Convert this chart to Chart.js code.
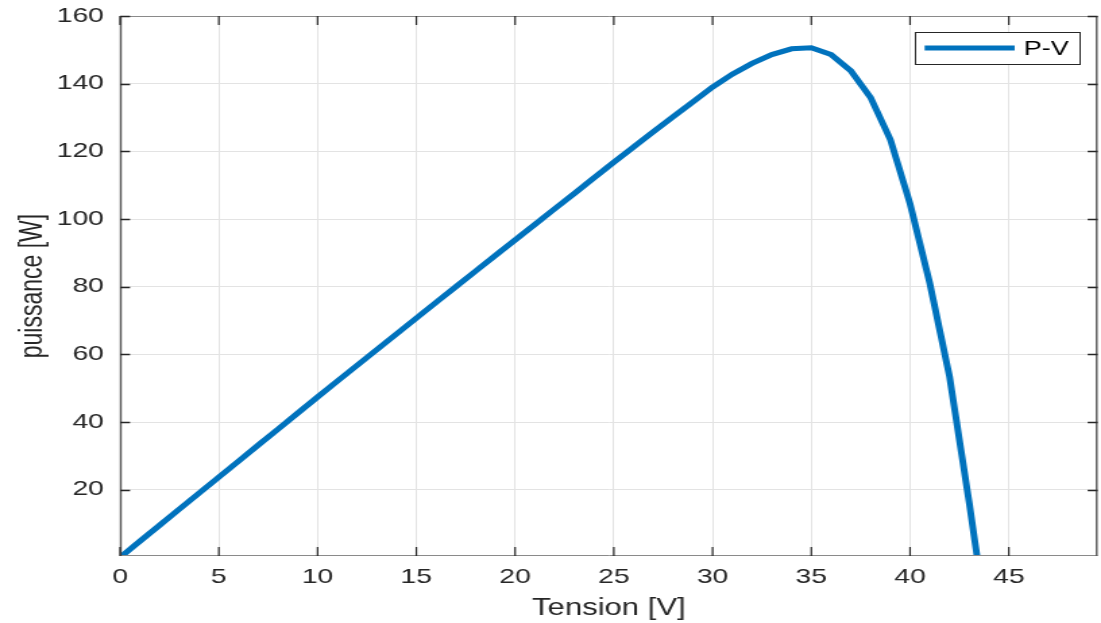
<!DOCTYPE html>
<html>
<head>
<meta charset="utf-8">
<script src="https://cdn.jsdelivr.net/npm/chart.js@4/dist/chart.umd.min.js"></script>
<style>
  html, body { margin: 0; padding: 0; background: #fff; overflow: hidden; }
  /* the plot is laid out at 816px and widened to the 1101px window */
  #wrap { position: absolute; left: 0; top: 0; width: 816px; height: 623px;
          transform-origin: 0 0; transform: scaleX(1.3493); }
</style>
</head>
<body>
<div id="wrap"><canvas id="pv"></canvas></div>
<script>
// P-V characteristic of the panel
const tension = [0, 1, 2, 3, 4, 5, 6, 7, 8, 9, 10, 11, 12, 13, 14, 15, 16, 17, 18, 19, 20,
  21, 22, 23, 24, 25, 26, 27, 28, 29, 30, 31, 32, 33, 34, 35, 36, 37, 38, 39, 40, 41, 42, 43, 43.4];
const puissance = [0, 4.75, 9.5, 14.25, 19.0, 23.7, 28.45, 33.2, 37.9, 42.65, 47.4, 52.1, 56.75,
  61.4, 66.05, 70.7, 75.35, 80.0, 84.6, 89.2, 93.8, 98.4, 103.0, 107.55, 112.2, 116.8, 121.3,
  125.8, 130.2, 134.6, 139.0, 142.8, 146.0, 148.6, 150.3, 150.6, 148.6, 143.8, 135.9, 123.5,
  104.5, 81.0, 53.4, 16.0, 0];
const xTicks = [0, 5, 10, 15, 20, 25, 30, 35, 40, 45];
const yTicks = [20, 40, 60, 80, 100, 120, 140, 160];
const seriesLabel = 'P-V';
const xTitle = 'Tension [V]';
const yTitle = 'puissance [W]';

const FONT = "'Liberation Sans', Arial, Helvetica, sans-serif";
const TEXT = '#262626';
const LINE = '#0072BD';

// box, inward ticks on all four sides and the boxed legend
const axesFrame = {
  id: 'axesFrame',
  afterDraw(chart) {
    const { ctx, chartArea: a, scales: { x, y } } = chart;
    ctx.save();
    ctx.lineWidth = 1;
    ctx.strokeStyle = '#8a8a8a';
    ctx.beginPath();
    ctx.moveTo(a.left, a.top + 0.5); ctx.lineTo(a.right, a.top + 0.5);
    ctx.moveTo(a.left, a.bottom - 0.5); ctx.lineTo(a.right, a.bottom - 0.5);
    ctx.stroke();
    ctx.strokeStyle = '#555';
    ctx.lineWidth = 1.4;
    ctx.beginPath();
    ctx.moveTo(a.left + 0.5, a.top); ctx.lineTo(a.left + 0.5, a.bottom);
    ctx.moveTo(a.right - 0.7, a.top); ctx.lineTo(a.right - 0.7, a.bottom);
    ctx.stroke();

    ctx.strokeStyle = TEXT;
    ctx.lineWidth = 1.2;
    ctx.beginPath();
    x.ticks.forEach(t => {
      const px = x.getPixelForValue(t.value);
      ctx.moveTo(px, a.bottom); ctx.lineTo(px, a.bottom - 9);
      ctx.moveTo(px, a.top); ctx.lineTo(px, a.top + 9);
    });
    ctx.stroke();
    ctx.lineWidth = 1.6;
    ctx.beginPath();
    y.ticks.forEach(t => {
      const py = Math.round(y.getPixelForValue(t.value)) + 0.5;
      ctx.moveTo(a.left, py); ctx.lineTo(a.left + 7.4, py);
      ctx.moveTo(a.right, py); ctx.lineTo(a.right - 7.4, py);
    });
    ctx.stroke();

    // legend
    const ds = chart.data.datasets[0];
    ctx.font = `20px ${FONT}`;
    const tw = ctx.measureText(ds.label).width;
    const padL = 7.4, sample = 66.7, gap = 6.7, padR = 7.5;
    const w = padL + sample + gap + tw + padR;
    const h = 32;
    const right = a.right - 14;
    const left = right - w;
    const top = a.top + 16;
    ctx.fillStyle = '#fff';
    ctx.fillRect(left, top, w, h);
    ctx.strokeStyle = '#262626';
    ctx.lineWidth = 1;
    ctx.strokeRect(Math.round(left) + 0.5, top + 0.5, Math.round(w), h);
    ctx.strokeStyle = ds.borderColor;
    ctx.lineWidth = ds.borderWidth;
    ctx.beginPath();
    ctx.moveTo(left + padL, top + h / 2); ctx.lineTo(left + padL + sample, top + h / 2);
    ctx.stroke();
    ctx.fillStyle = '#000';
    ctx.textBaseline = 'middle';
    ctx.textAlign = 'left';
    ctx.fillText(ds.label, left + padL + sample + gap, top + h / 2 + 1);
    ctx.restore();
  }
};

new Chart(document.getElementById('pv'), {
  type: 'line',
  data: {
    datasets: [{
      label: seriesLabel,
      data: tension.map((v, i) => ({ x: v, y: puissance[i] })),
      borderColor: LINE,
      backgroundColor: LINE,
      borderWidth: 5,
      pointRadius: 0,
      tension: 0,
      fill: false
    }]
  },
  options: {
    responsive: true,
    maintainAspectRatio: false,
    animation: false,
    events: [],
    layout: { padding: { left: 0, right: 1, top: 16, bottom: 0 } },
    plugins: { legend: { display: false }, tooltip: { enabled: false } },
    scales: {
      x: {
        type: 'linear', min: 0, max: 49.5,
        afterBuildTicks: s => { s.ticks = xTicks.map(v => ({ value: v })); },
        afterFit: s => { s.height = 67; },
        grid: { color: '#e3e3e3', lineWidth: 1, drawTicks: false },
        border: { display: false },
        ticks: { color: TEXT, font: { family: FONT, size: 21 }, padding: 9, maxRotation: 0,
                 callback: v => String(v) },
        title: { display: true, text: xTitle, color: TEXT,
                 font: { family: FONT, size: 23 }, padding: { top: 0, bottom: 1 } }
      },
      y: {
        type: 'linear', min: 0.4, max: 160,
        afterBuildTicks: s => { s.ticks = yTicks.map(v => ({ value: v })); },
        afterFit: s => { s.width = 89; s.paddingTop = 0; s.paddingBottom = 0; },
        grid: { color: '#e3e3e3', lineWidth: 1, drawTicks: false },
        border: { display: false },
        ticks: { color: TEXT, font: { family: FONT, size: 21 }, padding: 12,
                 callback: v => String(v) },
        title: { display: true, text: yTitle, color: TEXT,
                 font: { family: FONT, size: 23 }, padding: { top: 11, bottom: 0 } }
      }
    }
  },
  plugins: [axesFrame]
});
</script>
</body>
</html>
